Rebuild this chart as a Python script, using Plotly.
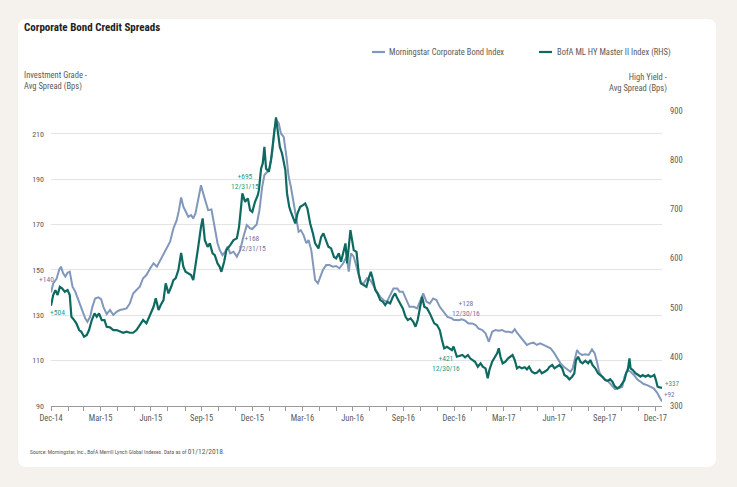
import pandas as pd
import plotly.graph_objects as go

# ---------------- data ----------------
START = pd.Timestamp("2014-12-31")

# Morningstar Corporate Bond Index (IG, left axis) : days since 2014-12-31, spread (bps)
ig_days = [0, 4, 10, 15, 18, 22, 26, 30, 34, 39, 44, 50, 55, 62, 66, 71, 75, 80, 86, 91,
           95, 101, 107, 113, 119, 125, 131, 137, 143, 149, 155, 161, 167, 173, 180, 186, 192, 198, 204, 210,
           216, 222, 228, 232, 236, 240, 244, 249, 254, 258, 262, 267, 272, 276, 280, 285, 291, 297, 302, 306,
           311, 316, 320, 325, 331, 337, 343, 349, 355, 361, 365, 373, 378, 383, 387, 392, 396, 401, 405, 409,
           413, 417, 422, 427, 431, 435, 440, 445, 449, 453, 458, 463, 467, 472, 475, 479, 484, 488, 493, 499,
           505, 511, 517, 523, 530, 536, 540, 544, 549, 554, 558, 562, 567, 573, 579, 585, 591, 597, 603, 609,
           615, 621, 628, 632, 638, 644, 650, 658, 664, 670, 675, 681, 687, 693, 699, 705, 712, 719, 727, 730,
           739, 745, 751, 757, 764, 770, 775, 782, 788, 794, 800, 806, 812, 818, 824, 830, 836, 841, 845, 851,
           857, 863, 869, 875, 881, 887, 893, 900, 906, 912, 918, 924, 930, 936, 942, 946, 950, 954, 958, 963,
           969, 975, 981, 986, 990, 994, 999, 1005, 1011, 1017, 1023, 1029, 1036, 1040, 1045, 1051, 1057, 1063, 1069, 1075,
           1081, 1087, 1093, 1099, 1103, 1108]
ig_vals = [140, 144, 146, 150.2, 151.4, 148.5, 147, 148.7, 149.2, 142.6, 140.4, 136.7, 133, 128.6, 127.1, 129.3, 133.7, 137.4, 137.9, 137,
           133.7, 130.5, 132.3, 130.1, 131.5, 132.3, 132.6, 133, 135.2, 139.6, 141.1, 142.6, 146.3, 147.7, 150.7, 152.9, 151.4, 154.3, 157.3, 159.5,
           162.4, 168.3, 171.9, 176.3, 181.9, 177.8, 175.6, 173.4, 174.1, 172.7, 174.9, 180.7, 187.3, 183.7, 180, 176.3, 176.6, 169, 161.7, 158.7,
           156.5, 158, 160.2, 157.3, 158, 155.8, 158.7, 164.6, 169.7, 168.3, 168, 170, 176.3, 186.6, 191.8, 193.2, 194.7, 201.3, 211.6, 216,
           214.5, 210.1, 208.6, 199.8, 191, 186.6, 179.3, 171.9, 166.8, 167.5, 165.3, 161.7, 163.1, 158.7, 152.1, 145.5, 144.1, 147, 149.9, 152.1,
           152.1, 151.4, 151.7, 150.7, 152.9, 155.8, 149.2, 157.3, 155.8, 151.4, 147, 144.1, 144.1, 146.3, 145.5, 142.6, 140.4, 138.1, 136.7, 135.9,
           138.9, 141.8, 141.8, 140.4, 140.4, 137.4, 133.7, 133.7, 133, 136.7, 139.6, 135.9, 135.2, 137.4, 136.7, 133.7, 131.5, 129.3, 128.6, 128,
           127.8, 128.2, 127.6, 126.4, 126.4, 125.7, 124.2, 123.5, 122, 118.3, 122.7, 123.5, 123.2, 123.5, 122.7, 122.7, 122.3, 123.8, 122.3, 120.5,
           119.1, 116.9, 117.6, 117.9, 116.9, 117.6, 116.9, 116.1, 115.4, 113.5, 111, 108.8, 107.3, 106.2, 105.1, 106.6, 110.3, 114.7, 113.2, 112.5,
           112.8, 112.5, 115, 113.2, 109.5, 105.1, 102.9, 101.5, 100.7, 99.2, 97.4, 97.8, 98.5, 102.9, 105.9, 105.1, 103.7, 101.8, 100.7, 99.7,
           99.2, 98.5, 97.8, 95.9, 94.1, 92]

# BofA ML HY Master II Index (right axis) : days since 2014-12-31, spread (bps)
hy_days = [0, 4, 8, 12, 16, 20, 25, 30, 34, 37, 42, 46, 51, 55, 60, 65, 69, 74, 79, 83,
           87, 92, 97, 101, 107, 113, 119, 125, 131, 137, 143, 149, 155, 161, 167, 173, 180, 186, 190, 195,
           199, 204, 208, 213, 218, 222, 226, 231, 236, 240, 244, 249, 254, 258, 262, 267, 272, 275, 279, 284,
           288, 293, 297, 302, 306, 309, 314, 318, 325, 331, 337, 341, 345, 347, 352, 357, 361, 365, 370, 375,
           377, 381, 384, 387, 390, 395, 399, 403, 406, 408, 411, 415, 419, 422, 425, 428, 432, 435, 439, 443,
           447, 452, 457, 461, 465, 470, 475, 479, 485, 490, 494, 499, 503, 508, 513, 517, 522, 526, 531, 534,
           537, 540, 543, 546, 549, 554, 558, 562, 567, 572, 576, 580, 584, 588, 592, 597, 602, 606, 610, 615,
           620, 624, 628, 633, 638, 643, 647, 652, 657, 661, 665, 670, 673, 677, 682, 687, 691, 695, 700, 705,
           709, 713, 718, 723, 727, 730, 736, 740, 746, 751, 756, 760, 764, 769, 774, 779, 783, 788, 792, 795,
           800, 804, 809, 812, 815, 819, 824, 829, 833, 837, 841, 845, 849, 854, 859, 863, 867, 872, 877, 881,
           886, 890, 895, 900, 904, 909, 913, 918, 922, 927, 931, 936, 940, 945, 949, 952, 956, 960, 964, 969,
           974, 978, 982, 987, 992, 996, 1000, 1005, 1010, 1014, 1018, 1022, 1027, 1032, 1036, 1040, 1043, 1046, 1049, 1051,
           1055, 1060, 1065, 1069, 1073, 1078, 1083, 1087, 1091, 1094, 1097, 1100, 1104, 1108]
hy_vals = [504, 525.6, 535.8, 525.6, 542.5, 539.2, 532.3, 535.8, 525.6, 481.5, 474.8, 468.1, 454.5, 451, 440.9, 444.3, 454.5, 474.8, 488.4, 481.5,
           488.4, 474.8, 474.8, 461.2, 460, 454.5, 454.5, 451, 449, 451, 449, 449, 454.5, 464.6, 474.8, 468.1, 488.4, 501.8, 518.9, 495.1,
           505.3, 515.4, 549.4, 529.1, 542.5, 556.1, 559.6, 576.4, 611.6, 583.1, 573, 569.7, 566.3, 556.1, 583.1, 623.8, 664.4, 681.5, 637.4, 623.8,
           630.7, 610.4, 606.9, 590, 583.1, 573, 593.3, 617.1, 627.2, 637.4, 640.9, 664.4, 708.5, 732.3, 715.3, 722.2, 698.4, 695, 715.3, 728.9,
           739, 783.1, 793.3, 827, 783.1, 776.2, 800, 840.7, 874.6, 886.8, 861, 827, 813.6, 793.3, 779.7, 732.3, 705.1, 694.9, 684.8, 671.3,
           691.7, 705.1, 708.5, 712, 701.8, 671.3, 651, 630.7, 620.5, 644.1, 651, 637.4, 623.8, 620.5, 603.5, 600.2, 610.4, 593.3, 617.1, 630.7,
           590, 630.7, 657.7, 637.4, 617.1, 613.6, 569.7, 549.4, 545.9, 542.5, 559.6, 573, 556.1, 535.8, 529.1, 515.4, 512, 505.3, 512, 508.7,
           522.2, 529.1, 518.9, 508.7, 498.6, 481.5, 474.8, 478.3, 471.3, 461.2, 474.8, 505.3, 522.2, 501.8, 498.6, 488.4, 478.3, 468.1, 464.6, 454.5,
           434.1, 417.3, 420.5, 417.3, 413.8, 421, 400.2, 401.6, 403.7, 399, 403.7, 397, 393.5, 390, 379.9, 386.8, 379.9, 376.6, 356.3, 373.2,
           390, 397, 407.1, 417.3, 400.2, 386.8, 390, 397, 400.2, 403.7, 393.5, 376.6, 379.9, 376.6, 378.7, 374.6, 379.9, 369.7, 366.5, 367.7,
           373.2, 366.5, 369.7, 373.2, 379.9, 383.3, 376.6, 379.9, 383.3, 376.6, 363, 359.6, 354.3, 359.6, 366.5, 393.5, 400.2, 390, 386.8, 392.1,
           386.8, 393.5, 383.3, 376.6, 366.5, 363, 359.6, 352.8, 351.4, 354.3, 349.4, 340.7, 336, 339.2, 346.1, 352.8, 366.5, 373.2, 397, 376.6,
           373.2, 366.5, 363, 359.6, 363, 359.6, 363, 359.6, 361, 363, 352.8, 339.2, 338, 337]

ig_name = "Morningstar Corporate Bond Index"
hy_name = "BofA ML HY Master II Index (RHS)"

left_ticks = [90, 110, 130, 150, 170, 190, 210]
right_ticks = [300, 400, 500, 600, 700, 800, 900]
quarter_labels = {12: "Dec", 3: "Mar", 6: "Jun", 9: "Sep"}

# labelled points (dates)
ig_marks = ["2014-12-31", "2015-12-31", "2016-12-30", "2018-01-12"]
hy_marks = ["2014-12-31", "2015-12-31", "2016-12-30", "2018-01-12"]

# ---------------- build ----------------
ig_dates = [START + pd.Timedelta(days=d) for d in ig_days]
hy_dates = [START + pd.Timedelta(days=d) for d in hy_days]
ig_s = pd.Series(ig_vals, index=ig_dates)
hy_s = pd.Series(hy_vals, index=hy_dates)

IG_COL = "#8197bb"
HY_COL = "#0e6a60"
IG_TXT = "#7a72a6"
HY_TXT = "#1f9a8a"
GREY = "#5a5a5a"
FONT = "Liberation Sans Narrow, Roboto Condensed, Arial Narrow, Roboto, sans-serif"

W, H = 737, 487
L, R, T, B = 51, 662, 111, 406  # plot area in px


def px(x):
    return (x - L) / (R - L)


def py(y):
    return (B - y) / (B - T)


fig = go.Figure()
fig.add_trace(go.Scatter(x=ig_s.index, y=ig_s.values, mode="lines", name=ig_name,
                         line=dict(color=IG_COL, width=2), yaxis="y", showlegend=False))
fig.add_trace(go.Scatter(x=hy_s.index, y=hy_s.values, mode="lines", name=hy_name,
                         line=dict(color=HY_COL, width=2.2), yaxis="y2", showlegend=False))

# monthly ticks at month ends, labels on quarters
month_ends = pd.date_range("2014-12-31", "2017-12-31", freq="ME")
ticktext = [f"{quarter_labels[d.month]}-{d.strftime('%y')}" if d.month in quarter_labels else "" for d in month_ends]

# card background (rounded)
x0, x1, y0, y1 = px(18), px(716), py(467), py(19)
rx, ry = 9 / (R - L), 9 / (B - T)
path = (f"M {x0+rx},{y0} L {x1-rx},{y0} Q {x1},{y0} {x1},{y0+ry} L {x1},{y1-ry} Q {x1},{y1} {x1-rx},{y1} "
        f"L {x0+rx},{y1} Q {x0},{y1} {x0},{y1-ry} L {x0},{y0+ry} Q {x0},{y0} {x0+rx},{y0} Z")
shapes = [dict(type="path", path=path, xref="paper", yref="paper", fillcolor="white",
               line=dict(width=0), layer="below")]
# legend line samples
shapes.append(dict(type="line", xref="paper", yref="paper", x0=px(372), x1=px(385), y0=py(52), y1=py(52),
                   line=dict(color=IG_COL, width=2.2)))
shapes.append(dict(type="line", xref="paper", yref="paper", x0=px(539), x1=px(552), y0=py(52), y1=py(52),
                   line=dict(color=HY_COL, width=2.2)))

ann = []
ann.append(dict(text="<b>Corporate Bond Credit Spreads</b>", x=px(22), y=py(27.5), xref="paper", yref="paper",
                xanchor="left", yanchor="middle", showarrow=False, font=dict(size=11, color="#222", family=FONT)))
ann.append(dict(text=ig_name, x=px(387), y=py(52), xref="paper", yref="paper", xanchor="left", yanchor="middle",
                showarrow=False, font=dict(size=8.5, color=GREY, family=FONT)))
ann.append(dict(text=hy_name, x=px(555), y=py(52), xref="paper", yref="paper", xanchor="left", yanchor="middle",
                showarrow=False, font=dict(size=8.5, color=GREY, family=FONT)))
ann.append(dict(text="Investment Grade -<br>Avg Spread (Bps)", x=px(22), y=py(81), xref="paper", yref="paper",
                xanchor="left", yanchor="middle", align="left", showarrow=False,
                font=dict(size=8.5, color=GREY, family=FONT)))
ann.append(dict(text="High Yield -<br>Avg Spread (Bps)", x=px(669), y=py(83), xref="paper", yref="paper",
                xanchor="right", yanchor="middle", align="right", showarrow=False,
                font=dict(size=8.5, color=GREY, family=FONT)))
ann.append(dict(text="Source: Morningstar, Inc., BofA Merrill Lynch Global Indexes. Data as of "
                     "<span style='font-size:7.5px'>01/12/2018</span>.",
                x=px(28), y=py(451.5), xref="paper", yref="paper", xanchor="left", yanchor="middle",
                showarrow=False, font=dict(size=5.6, color=GREY, family=FONT)))


def lab(series, d, yref, color, xshift, yshift, xanchor="center", with_date=True, size=7.5):
    d = pd.Timestamp(d)
    v = series[d] if d in series.index else series.iloc[(abs(series.index - d)).argmin()]
    t = f"+{round(v)}"
    if with_date:
        t += f"<br>{d.month}/{d.day}/{d.strftime('%y')}"
    ann.append(dict(text=t, x=d, y=v, xref="x", yref=yref, showarrow=False, xanchor=xanchor, yanchor="middle",
                    xshift=xshift, yshift=yshift, align="center", borderpad=0,
                    font=dict(size=size, color=color, family=FONT)))


lab(ig_s, ig_marks[0], "y", IG_TXT, -5, 13, with_date=False)
lab(hy_s, hy_marks[0], "y2", HY_TXT, 6, -7, with_date=False)
lab(hy_s, hy_marks[1], "y2", HY_TXT, -7, 30)
lab(ig_s, ig_marks[1], "y", IG_TXT, 0, -14)
lab(ig_s, ig_marks[2], "y", IG_TXT, 12, 11)
lab(hy_s, hy_marks[2], "y2", HY_TXT, -8, -17)
lab(hy_s, hy_marks[3], "y2", HY_TXT, 2, 4, xanchor="left", with_date=False, size=7)
lab(ig_s, ig_marks[3], "y", IG_TXT, 1, 6, xanchor="left", with_date=False, size=7)

fig.update_layout(
    width=W, height=H,
    margin=dict(l=L, r=W - R, t=T, b=H - B, pad=0),
    paper_bgcolor="#f5f2ee", plot_bgcolor="rgba(0,0,0,0)",
    font=dict(family=FONT, size=8.5, color=GREY),
    shapes=shapes, annotations=ann, showlegend=False,
    xaxis=dict(type="date", range=[START, pd.Timestamp("2018-01-12")], tickvals=month_ends, ticktext=ticktext,
               ticks="outside", ticklen=4, tickcolor="#9a9a9a", showline=True, linecolor="#9a9a9a", linewidth=1,
               showgrid=False, zeroline=False, tickfont=dict(size=8.5, color=GREY, family=FONT)),
    yaxis=dict(range=[90, 220], tickvals=left_ticks, showgrid=True, gridcolor="#e4e4e4", gridwidth=1,
               zeroline=False, showline=False, ticks="", tickfont=dict(size=8, color=GREY, family=FONT),
               ticklabelstandoff=6),
    yaxis2=dict(range=[300, 900], tickvals=right_ticks, overlaying="y", side="right", showgrid=False,
                zeroline=False, showline=False, ticks="", tickfont=dict(size=8.5, color=GREY, family=FONT),
                ticklabelstandoff=7),
)

fig.write_html("out.html")
